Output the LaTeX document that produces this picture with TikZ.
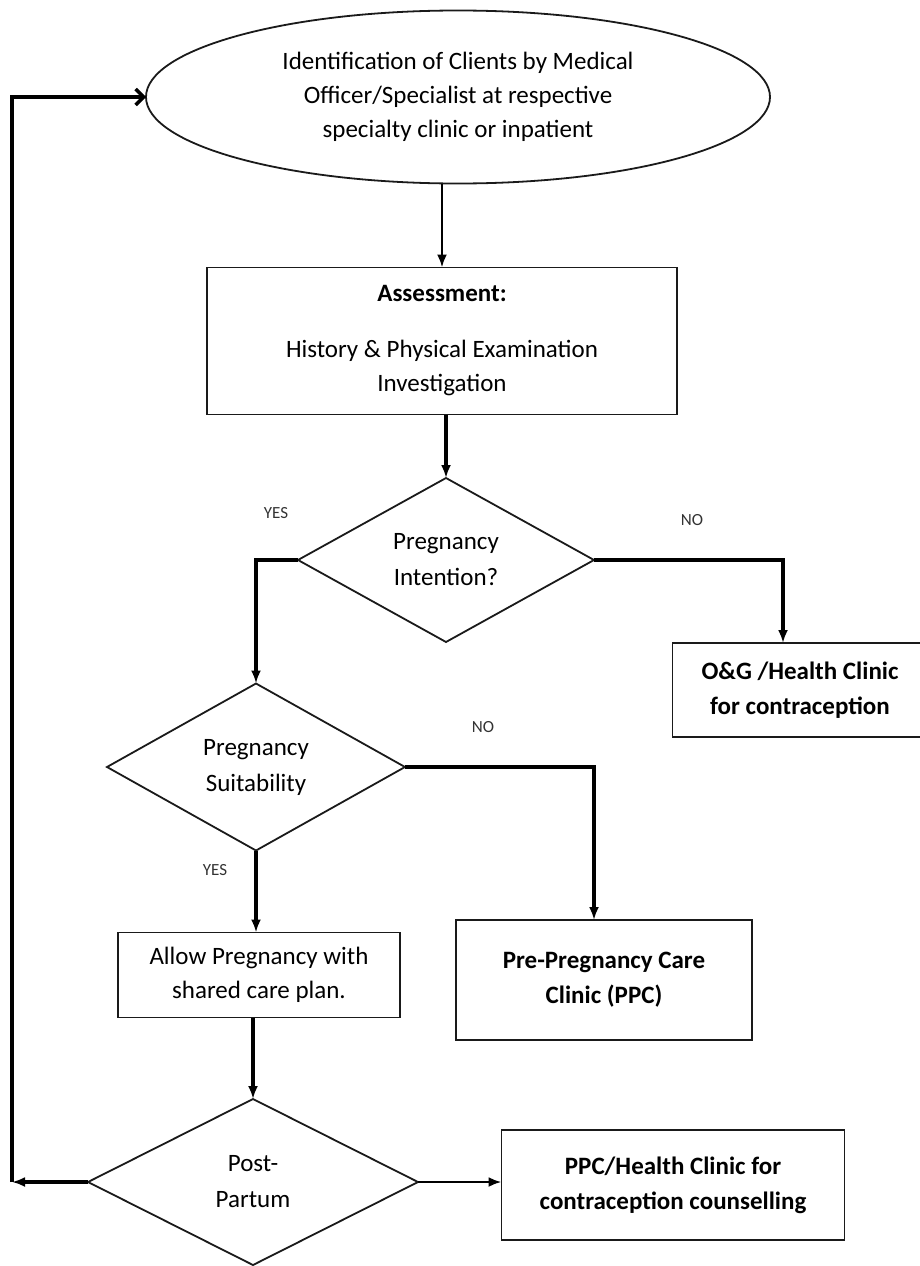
\documentclass[tikz,border=0pt]{standalone}
\usepackage{fontspec}
\setmainfont{Carlito}
\usetikzlibrary{shapes.geometric, arrows.meta}
\definecolor{FlowInk}{HTML}{1A1A1A}
\definecolor{LabelGray}{HTML}{333333}

\begin{document}
\begin{tikzpicture}[x=1pt, y=-1pt,
    box/.style={draw=FlowInk, line width=1.8pt, align=center, inner sep=4pt, outer sep=0pt, font=\fontsize{25}{34}\selectfont},
    boldbox/.style={box, font=\fontsize{25}{35}\selectfont\bfseries},
    decision/.style={diamond, draw=FlowInk, line width=1.8pt, align=center, inner sep=2pt, outer sep=0pt, shape aspect=1.8, font=\fontsize{25}{36}\selectfont},
    flow/.style={-{Latex[length=13pt,width=10pt]}, line width=3.4pt},
    lbl/.style={font=\fontsize{17}{20}\selectfont, LabelGray}]
                \path[use as bounding box, fill=white] (0,0) rectangle (920,1266);

                % Start
                \node[ellipse, draw=FlowInk, line width=1.8pt, minimum width=624pt, minimum height=173pt, align=center, outer sep=0pt, font=\fontsize{25}{34}\selectfont] (ident) at (458,97) {Identification of Clients by Medical\\Officer/Specialist at respective\\specialty clinic or inpatient};
                \node[box, minimum width=470pt, minimum height=147pt] (assess) at (442,341) {\textbf{Assessment:}\\[22pt]History \& Physical Examination\\Investigation};

                % Decisions and outcomes
                \node[decision, minimum width=296pt, minimum height=164pt] (intent) at (446,560) {Pregnancy\\Intention?};
                \node[boldbox, minimum width=255pt, minimum height=94pt] (og) at (800,690) {O\&G /Health Clinic\\for contraception};
                \node[decision, minimum width=298pt, minimum height=167pt] (suit) at (256,767) {Pregnancy\\Suitability};
                \node[boldbox, minimum width=296pt, minimum height=120pt] (ppc) at (604,980) {Pre-Pregnancy Care\\Clinic (PPC)};
                \node[box, minimum width=282pt, minimum height=85pt] (allow) at (259,975) {Allow Pregnancy with\\shared care plan.};
                \node[decision, minimum width=330pt, minimum height=166pt] (post) at (253,1182) {Post-\\Partum};
                \node[boldbox, minimum width=343pt, minimum height=110pt] (ppch) at (673,1185) {PPC/Health Clinic for\\contraception counselling};
                \coordinate (loop) at (12,1182);

                % Branch labels
                \node[lbl] (yes1) at (276,513) {YES};
                \node[lbl] (no1) at (692,520) {NO};
                \node[lbl] (no2) at (483,727) {NO};
                \node[lbl] (yes2) at (215,870) {YES};

                % Arrows
                \draw[flow, line width=2.4pt] (ident.south -| assess.north) -- (assess.north);
                \draw[flow] (assess.south -| intent.north) -- (intent.north);
                \draw[flow] (intent.west) -| (suit.north);
                \draw[flow] (intent.east) -| ([xshift=-17pt]og.north);
                \draw[flow] (suit.east) -| ([xshift=-10pt]ppc.north);
                \draw[flow] (suit.south) -- (suit.south |- allow.north);
                \draw[flow] (allow.south -| post.north) -- (post.north);
                \draw[flow, line width=2.4pt] (post.east) -- (post.east -| ppch.west);
                \draw[flow] (post.west) -- (loop);
                \draw[line width=3.4pt, -{Straight Barb[length=8pt, width=16pt]}] (loop) |- (ident.west);
            \end{tikzpicture}
\end{document}
